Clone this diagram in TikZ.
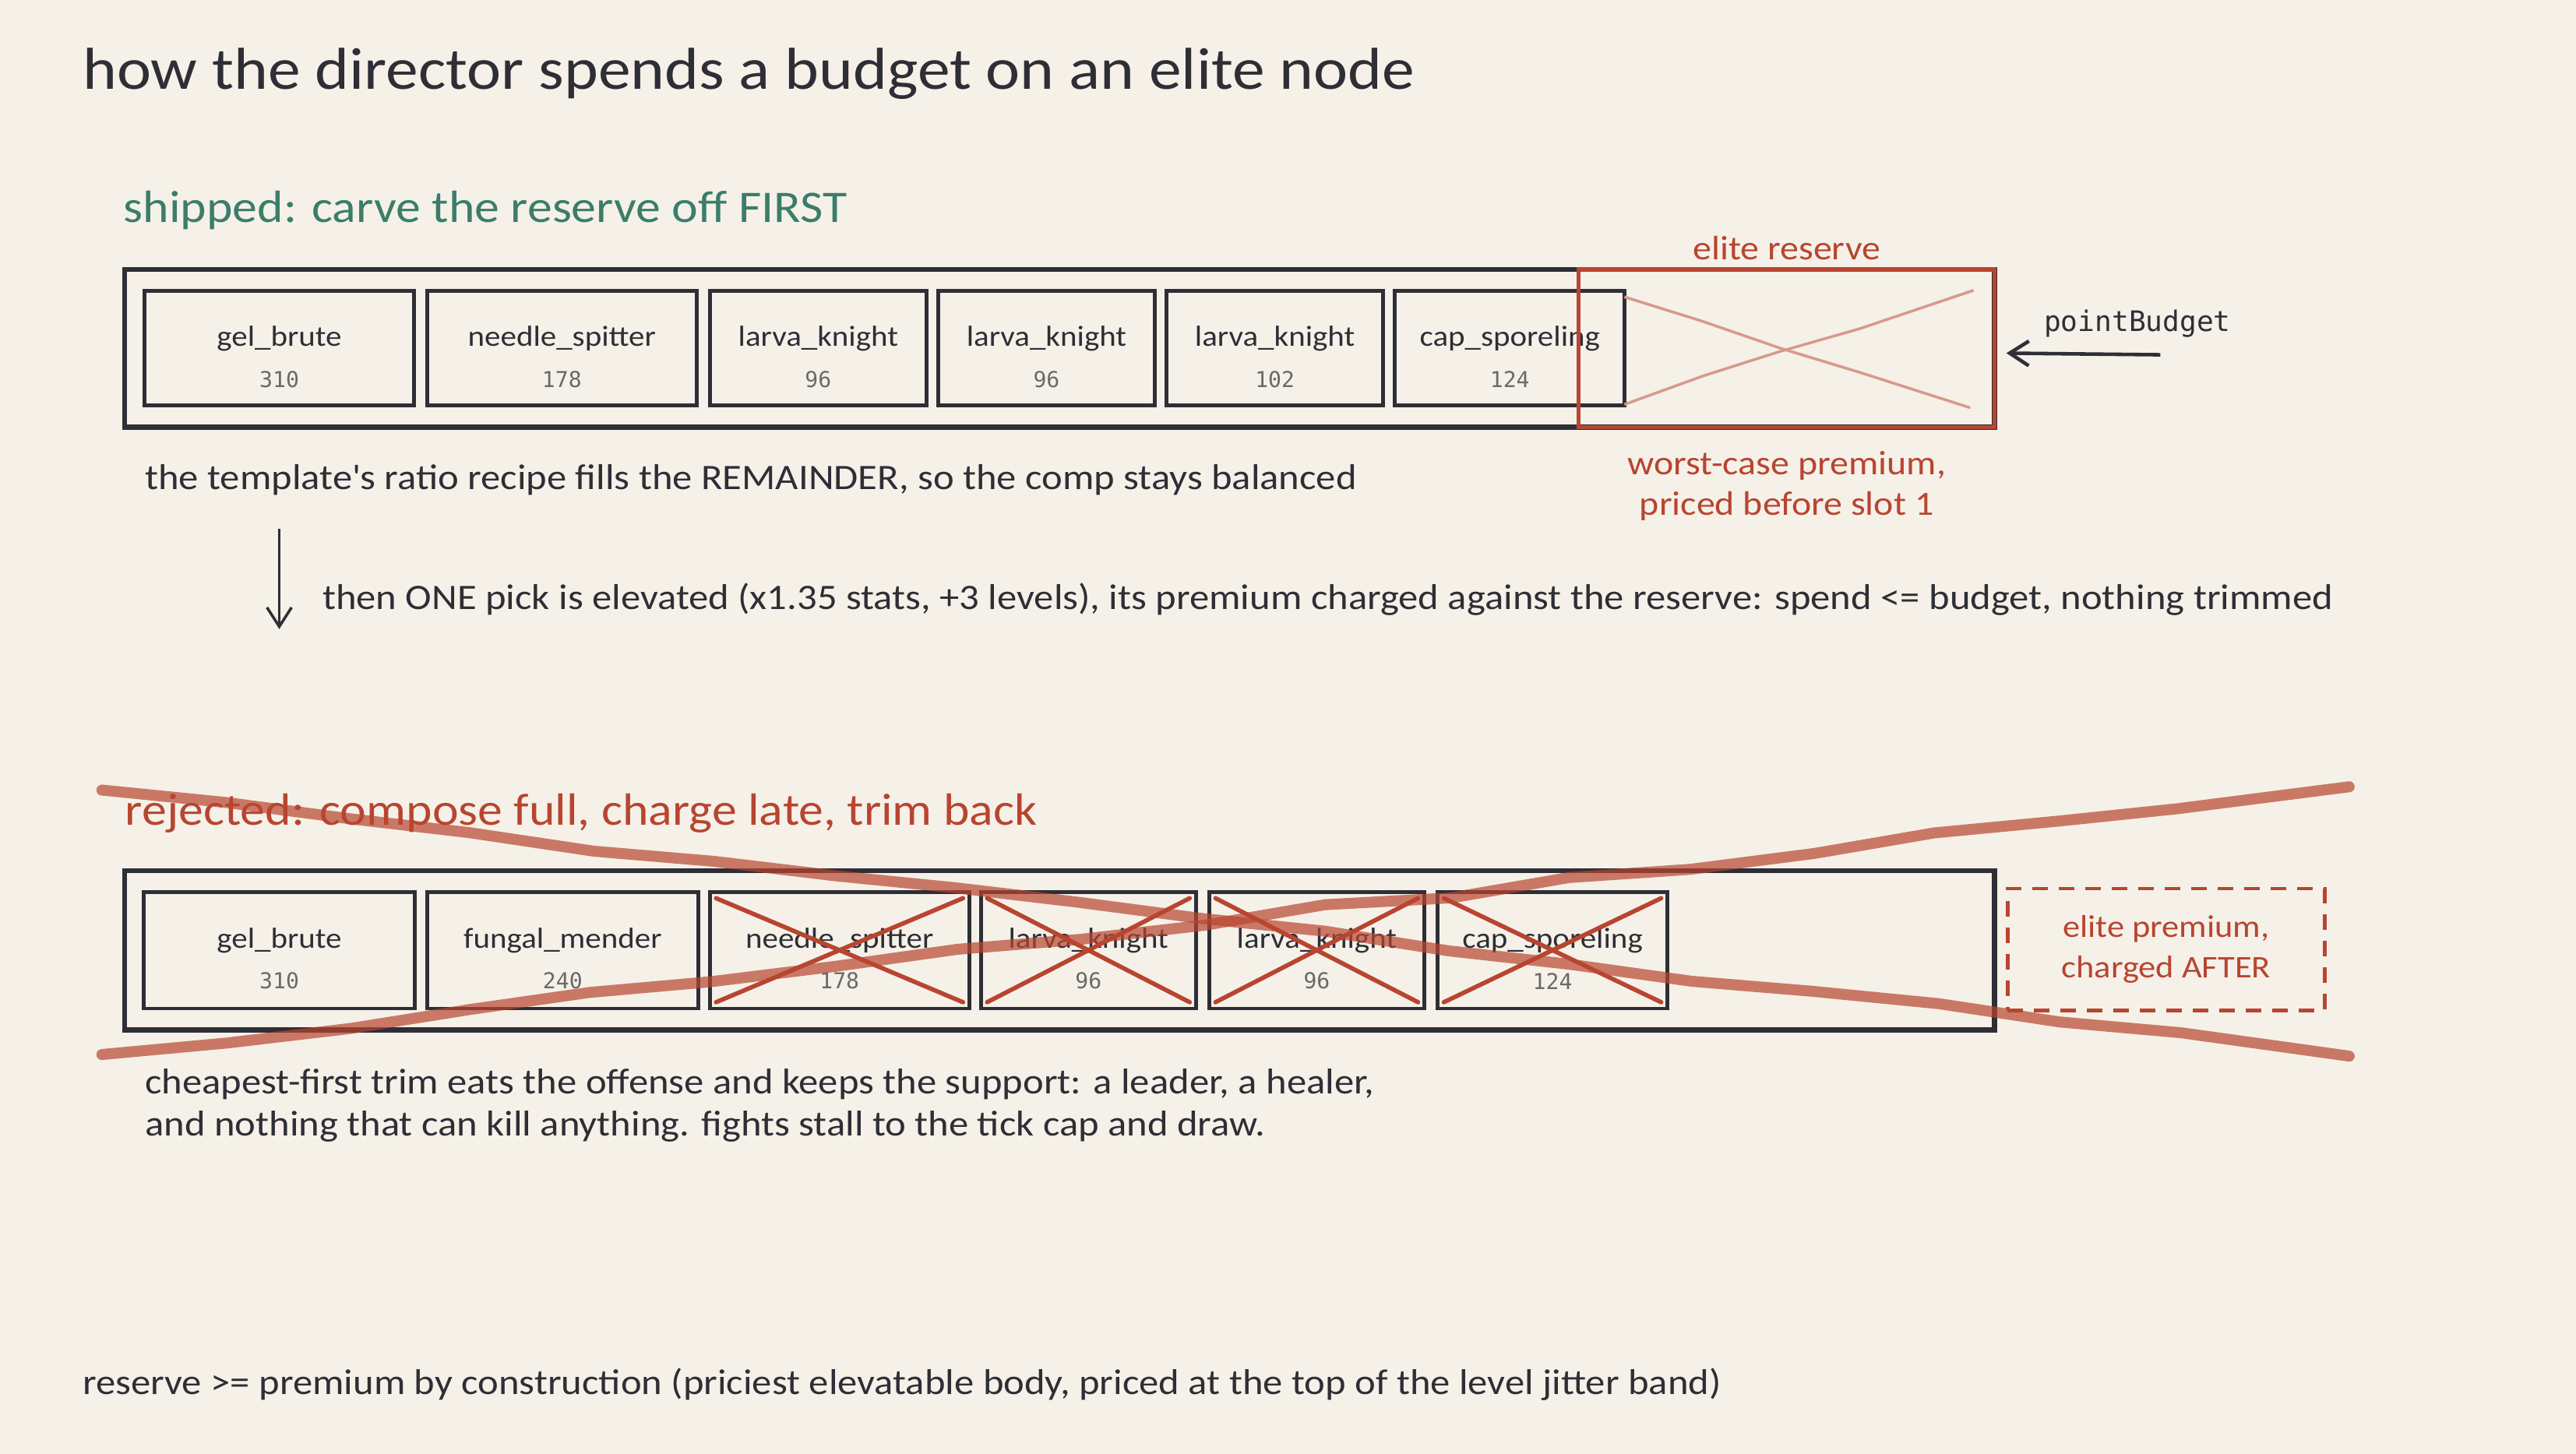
\documentclass[tikz,border=0pt]{standalone}
\usepackage{fontspec}
\setmainfont{Carlito}[FakeStretch=1.1]
\newfontfamily\monofont{DejaVu Sans Mono}
\usepackage{xcolor}
\usetikzlibrary{
    arrows.meta,
    positioning,
    decorations.pathmorphing
}
\definecolor{paper}{RGB}{245,241,232}
\definecolor{ink}{RGB}{46,46,54}
\definecolor{reject}{RGB}{184,69,48}
\definecolor{keep}{RGB}{59,125,106}
\definecolor{cost}{RGB}{105,105,105}
\def\px{0.2109mm}
\newcommand{\costfont}{\monofont\fontsize{8}{10}\selectfont\color{cost}}
\tikzset{
    frame/.style={
        rectangle,
        draw=ink,
        line width=1.8pt,
        inner sep=0pt
    },
    slot/.style={
        rectangle,
        draw=ink,
        line width=1.4pt,
        inner sep=0pt,
        minimum height=70*\px,
        align=center,
        text=ink,
        font=\fontsize{10.6}{12}\selectfont
    },
    reserve/.style={
        rectangle,
        draw=reject,
        line width=1.5pt,
        inner sep=0pt
    },
    late/.style={
        rectangle,
        draw=reject,
        line width=1.4pt,
        dash pattern=on 2mm off 1.4mm,
        inner sep=0pt,
        align=center,
        text=reject,
        font=\fontsize{11.5}{15}\selectfont
    },
    title/.style={
        anchor=west,
        inner sep=0pt,
        text=ink,
        font=\fontsize{21.6}{26}\selectfont
    },
    heading/.style={
        anchor=west,
        inner sep=0pt,
        font=\fontsize{16.5}{20}\selectfont
    },
    note/.style={
        anchor=west,
        inner sep=0pt,
        align=left,
        text=ink,
        font=\fontsize{13.1}{15.6}\selectfont
    },
    tag/.style={
        inner sep=0pt,
        align=center,
        text=reject,
        font=\fontsize{12.4}{15}\selectfont
    },
    arrow/.style={
        -{Straight Barb[length=7pt,width=9pt]},
        draw=ink,
        line width=1.3pt
    },
    cross/.style={
        draw=reject,
        line width=1.6pt,
        line cap=round
    },
    faint/.style={
        draw=reject!55,
        line width=1pt,
        decorate,
        decoration={random steps, segment length=30pt, amplitude=1pt}
    },
    strike/.style={
        draw=reject,
        opacity=0.7,
        line width=4pt,
        line cap=round,
        decorate,
        decoration={random steps, segment length=45pt, amplitude=1.5pt}
    }
}

\begin{document}
\pgfmathsetseed{7}
\begin{tikzpicture}[x=0.2109mm, y=-0.2109mm]
    % Paper
    \fill[paper] (0,0) rectangle (1568,885);
    \useasboundingbox (0,0) rectangle (1568,885);

    \node[title] (title) at (50,45) {how the director spends a budget on an elite node};

    % Shipped: reserve carved off first
    \node[heading, text=keep] (shiphead) at (75,128) {shipped: carve the reserve off FIRST};
    \node[frame, minimum width=1138*\px, minimum height=96*\px] (shipframe) at (645,212) {};
    \foreach \i/\x/\w/\name/\pts in {
        1/170/164/gel\_brute/310,
        2/342/164/needle\_spitter/178,
        3/498/132/larva\_knight/96,
        4/637/132/larva\_knight/96,
        5/776/132/larva\_knight/102,
        6/919/140/cap\_sporeling/124%
    } {
        \node[slot, minimum width=\w*\px] (ship\i) at (\x,212) {\rule{0pt}{13.5pt}\name\\[3pt]{\costfont\pts}};
    }
    \node[reserve, minimum width=253*\px, minimum height=96*\px] (reserve) at (1087.5,212) {};
    \draw[faint] ([shift={(29,18)}]reserve.north west) -- ([shift={(-16,-13)}]reserve.south east);
    \draw[faint] ([shift={(29,-15)}]reserve.south west) -- ([shift={(-14,14)}]reserve.north east);
    \node[tag, above=4*\px of reserve] (reservetag) {elite reserve};
    \node[tag, below=13*\px of reserve] (worstcase) {worst-case premium,\\priced before slot 1};

    \node[font=\monofont\fontsize{10.3}{12}\selectfont, text=ink, inner sep=0pt] (budget) at (1301,197) {pointBudget};
    \coordinate (budgetfrom) at (1315,216);
    \draw[arrow] (budgetfrom) -- ([shift={(6,3)}]reserve.east);

    \node[note] (remainder) at (88,292) {the template\textquotesingle s ratio recipe fills the REMAINDER, so the comp stays balanced};
    \coordinate (elevfrom) at (170,322);
    \coordinate (elevto) at (170,383);
    \draw[arrow, line width=1pt] (elevfrom) -- (elevto);
    \node[note] (elevate) at (196,365) {then ONE pick is elevated (x1.35 stats, +3 levels), its premium charged against the reserve: spend <= budget, nothing trimmed};

    % Rejected: compose full, trim back
    \node[heading, text=reject] (rejhead) at (76,495) {rejected: compose full, charge late, trim back};
    \node[frame, minimum width=1138*\px, minimum height=97*\px] (rejframe) at (645,578.5) {};
    \foreach \i/\x/\w/\name/\pts in {
        1/170/165/gel\_brute/310,
        2/342.5/165/fungal\_mender/240,
        3/511/158/needle\_spitter/178,
        4/662.5/131/larva\_knight/96,
        5/801.5/131/larva\_knight/96,
        6/945/140/cap\_sporeling/124%
    } {
        \node[slot, minimum width=\w*\px, minimum height=71*\px] (rej\i) at (\x,578.5) {\rule{0pt}{13.5pt}\name\\[3pt]{\costfont\pts}};
    }
    \foreach \i in {3,...,6} {
        \draw[cross] ([shift={(5,5)}]rej\i.north west) -- ([shift={(-5,-5)}]rej\i.south east);
        \draw[cross] ([shift={(5,-5)}]rej\i.south west) -- ([shift={(-5,5)}]rej\i.north east);
    }
    \node[late, minimum width=193*\px, minimum height=74*\px] (latefee) at (1318.5,578) {elite premium,\\charged AFTER};

    \coordinate (strikeA1) at (62,481);
    \coordinate (strikeA2) at (1430,643);
    \coordinate (strikeB1) at (62,642);
    \coordinate (strikeB2) at (1430,479);
    \draw[strike] (strikeA1) -- (strikeA2);
    \draw[strike] (strikeB1) -- (strikeB2);

    \node[note] (stall) at (88,673) {cheapest-first trim eats the offense and keeps the support: a leader, a healer,\\and nothing that can kill anything. fights stall to the tick cap and draw.};

    \node[note] (bycons) at (50,843) {reserve >= premium by construction (priciest elevatable body, priced at the top of the level jitter band)};
\end{tikzpicture}
\end{document}
